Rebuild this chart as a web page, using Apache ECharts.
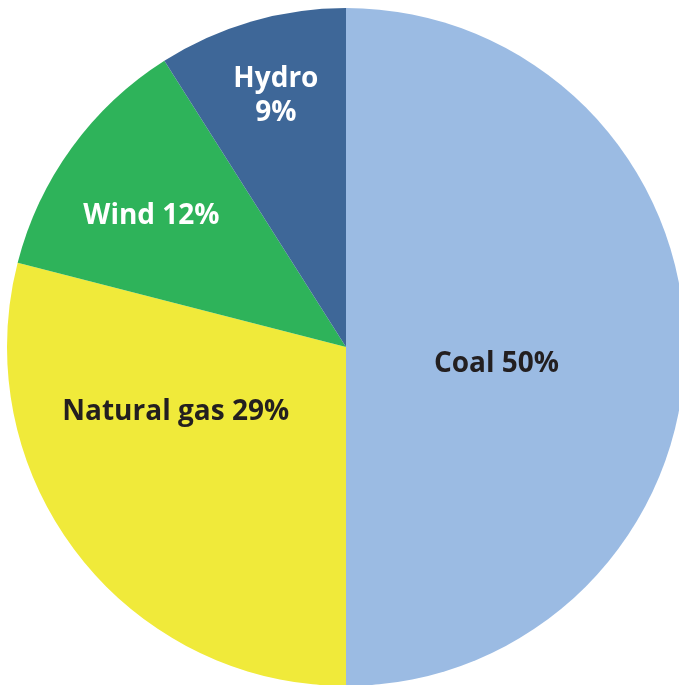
<!DOCTYPE html>
<html><head><meta charset="utf-8">
<script src="https://cdn.jsdelivr.net/npm/echarts@6/dist/echarts.min.js"></script>
<style>html,body{margin:0;padding:0;background:#fff;}#c{width:679px;height:685px;}</style>
</head><body><div id="c"></div>
<script>
const categories = ['Coal', 'Natural gas', 'Wind', 'Hydro'];
const shares = [50, 29, 12, 9];
const colors = ['#9BBBE3', '#F0EA3A', '#2EB35A', '#3E6798'];
const labelColors = ['#231F20', '#231F20', '#FFFFFF', '#FFFFFF'];
const labelOffsets = [[-22, 17], [-34, -41], [-55, -30], [-22, -85]];

const chart = echarts.init(document.getElementById('c'), null, {renderer: 'canvas'});
chart.setOption({
  animation: false,
  series: [{
    type: 'pie',
    center: [346, 347],
    radius: 339,
    startAngle: 90,
    clockwise: true,
    avoidLabelOverlap: false,
    itemStyle: {borderWidth: 0},
    emphasis: {disabled: true},
    label: {
      show: true,
      position: 'inside',
      fontFamily: 'Open Sans',
      fontWeight: 'bold',
      fontSize: 28,
      lineHeight: 34,
      align: 'center',
      formatter: p => p.name + (p.name === 'Hydro' ? '\n' : ' ') + p.value + '%'
    },
    labelLayout: p => ({dx: labelOffsets[p.dataIndex][0], dy: labelOffsets[p.dataIndex][1]}),
    labelLine: {show: false},
    data: categories.map((c, i) => ({
      name: c, value: shares[i],
      itemStyle: {color: colors[i]},
      label: {color: labelColors[i]}
    }))
  }]
});
</script></body></html>
